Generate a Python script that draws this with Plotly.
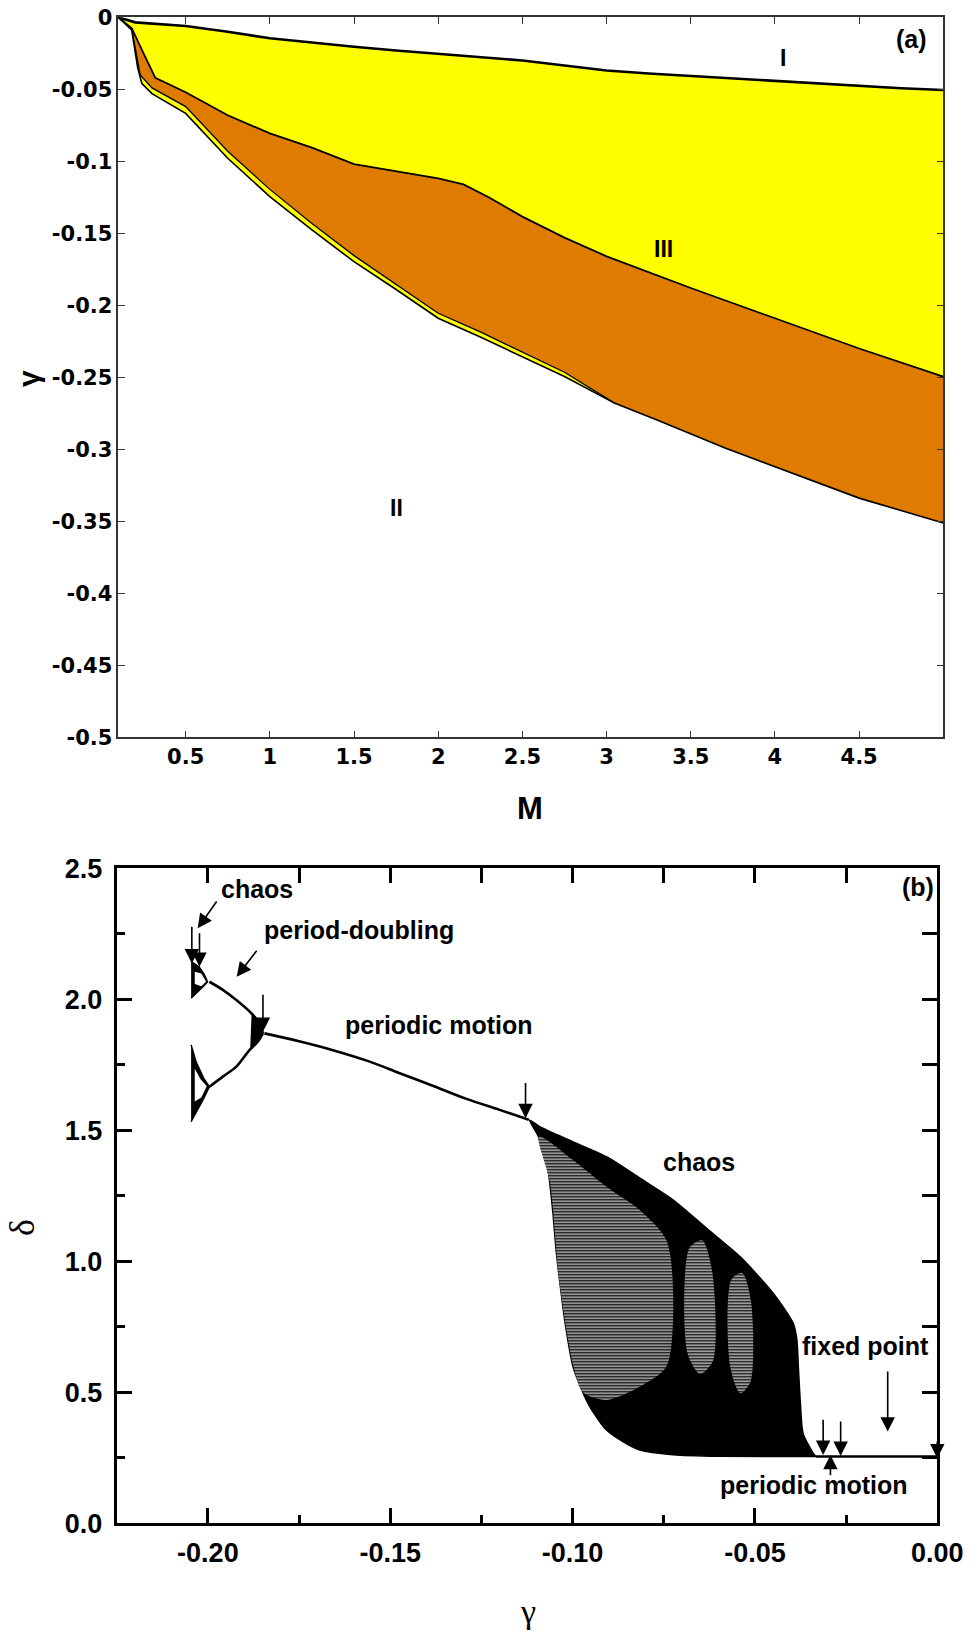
import plotly.graph_objects as go

W, H = 979, 1638

# ---------------- panel (a) data ----------------
top_M = [0.1, 0.2, 0.5, 0.75, 1.0, 1.25, 1.5, 1.75, 2.0, 2.25, 2.5, 2.75, 3.0, 3.25, 3.5, 3.75, 4.0, 4.25, 4.5, 4.75, 5.0]
top_g = [0.0, -0.0035, -0.006, -0.010, -0.0146, -0.0176, -0.0204, -0.023, -0.0255, -0.0278, -0.030, -0.0335,
         -0.037, -0.039, -0.0408, -0.0425, -0.0442, -0.046, -0.0477, -0.0493, -0.0505]

mid_M = [0.1, 0.18, 0.25, 0.32, 0.5, 0.75, 1.0, 1.25, 1.5, 1.75, 2.0, 2.15, 2.3, 2.5, 2.75, 3.0, 3.5, 4.0, 4.5, 5.0]
mid_g = [0.0, -0.0076, -0.025, -0.042, -0.052, -0.068, -0.0806, -0.0905, -0.102, -0.107, -0.1118, -0.1160,
         -0.1250, -0.1384, -0.153, -0.166, -0.188, -0.209, -0.230, -0.2495]

orange_low_M = [0.1, 0.18, 0.23, 0.3, 0.5, 0.75, 1.0, 1.25, 1.5, 1.75, 2.0, 2.25, 2.5, 2.75, 3.05]
orange_low_g = [0.0, -0.008, -0.040, -0.049, -0.062, -0.093, -0.1195, -0.1432, -0.1655, -0.1855, -0.2055,
                -0.2185, -0.2325, -0.2465, -0.2681]

outer_M = [0.1, 0.18, 0.215, 0.24, 0.3, 0.5, 0.75, 1.0, 1.25, 1.5, 1.75, 2.0, 2.25, 2.5, 2.75, 3.05, 3.3, 3.7,
           4.1, 4.5, 5.0]
outer_g = [0.0, -0.009, -0.035, -0.046, -0.053, -0.0667, -0.0979, -0.1245, -0.1476, -0.1697, -0.189, -0.209,
           -0.222, -0.236, -0.2495, -0.2681, -0.2796, -0.299, -0.3167, -0.3339, -0.3512]

a_xticks = [0.5, 1.0, 1.5, 2.0, 2.5, 3.0, 3.5, 4.0, 4.5]
a_xticktext = ["0.5", "1", "1.5", "2", "2.5", "3", "3.5", "4", "4.5"]
a_yticks = [0.0, -0.05, -0.1, -0.15, -0.2, -0.25, -0.3, -0.35, -0.4, -0.45, -0.5]
a_yticktext = ["0", "-0.05", "-0.1", "-0.15", "-0.2", "-0.25", "-0.3", "-0.35", "-0.4", "-0.45", "-0.5"]

a_labels = ["I", "III", "II", "(a)"]
a_label_M = [4.05, 3.34, 1.75, 4.81]
a_label_g = [-0.028, -0.161, -0.341, -0.015]

# ---------------- panel (b) data ----------------
per_g = [-0.1845, -0.175, -0.1657, -0.156, -0.1474, -0.138, -0.1291, -0.12, -0.112]
per_d = [1.870, 1.840, 1.806, 1.764, 1.718, 1.668, 1.620, 1.578, 1.540]

pd_up_g = [-0.1849, -0.1862, -0.1881, -0.1922, -0.1959, -0.1996]
pd_up_d = [1.870, 1.915, 1.947, 1.997, 2.036, 2.067]
pd_lo_g = [-0.1849, -0.1865, -0.1886, -0.1922, -0.1959, -0.1996]
pd_lo_d = [1.870, 1.835, 1.806, 1.743, 1.705, 1.666]

pd_lens_g = [-0.1849, -0.1862, -0.1878, -0.1880, -0.1882, -0.1865, -0.1849]
pd_lens_d = [1.870, 1.915, 1.945, 1.880, 1.810, 1.835, 1.870]

ch_up_g = [-0.2046, -0.2024, -0.2010, -0.2001, -0.2012, -0.2024, -0.2046]
ch_up_d = [2.144, 2.124, 2.095, 2.067, 2.050, 2.035, 2.004]
ch_up_hole_g = [-0.2036, -0.2018, -0.2005, -0.2018, -0.2036]
ch_up_hole_d = [2.105, 2.098, 2.068, 2.050, 2.058]

ch_lo_g = [-0.2046, -0.2032, -0.2012, -0.1996, -0.2012, -0.2030, -0.2046]
ch_lo_d = [1.826, 1.760, 1.700, 1.666, 1.620, 1.575, 1.533]
ch_lo_hole_g = [-0.2036, -0.2020, -0.2003, -0.2018, -0.2036]
ch_lo_hole_d = [1.735, 1.695, 1.668, 1.625, 1.610]

band_up_g = [-0.1118, -0.109, -0.100, -0.0907, -0.0815, -0.0724, -0.063, -0.0541, -0.045, -0.0395, -0.0385,
             -0.0381, -0.0375, -0.0368, -0.034, -0.0333]
band_up_d = [1.539, 1.514, 1.457, 1.399, 1.317, 1.234, 1.123, 1.018, 0.878, 0.763, 0.700, 0.598, 0.450, 0.343,
             0.267, 0.255]
band_lo_g = [-0.1118, -0.1095, -0.1070, -0.1055, -0.1045, -0.1035, -0.1020, -0.0999, -0.0975, -0.0953, -0.0907,
             -0.0860, -0.0816, -0.0724, -0.060, -0.0333]
band_lo_d = [1.539, 1.480, 1.370, 1.200, 1.040, 0.920, 0.760, 0.598, 0.510, 0.445, 0.356, 0.310, 0.280, 0.262,
             0.256, 0.255]

gray_g = [-0.1092, -0.0999, -0.0907, -0.0816, -0.0743, -0.0724, -0.0743, -0.0816, -0.0907, -0.0972, -0.0998,
          -0.1036, -0.1062, -0.1092]
gray_d = [1.476, 1.387, 1.285, 1.196, 1.081, 0.852, 0.598, 0.521, 0.471, 0.500, 0.600, 0.920, 1.300, 1.476]
stripe1_g = [-0.0680, -0.0645, -0.0617, -0.0615, -0.0650, -0.0685, -0.0680]
stripe1_d = [1.050, 1.080, 0.960, 0.620, 0.570, 0.650, 1.050]
stripe2_g = [-0.0565, -0.0535, -0.0511, -0.0512, -0.0540, -0.0568, -0.0565]
stripe2_d = [0.930, 0.955, 0.850, 0.540, 0.496, 0.600, 0.930]

fixed_g = [-0.0333, 0.0]
fixed_d = [0.255, 0.255]

b_xticks = [-0.20, -0.15, -0.10, -0.05, 0.00]
b_xticktext = ["-0.20", "-0.15", "-0.10", "-0.05", "0.00"]
b_xminor = [-0.175, -0.125, -0.075, -0.025]
b_xtop = [-0.2, -0.175, -0.15, -0.125, -0.1, -0.075, -0.05, -0.025]
b_yticks = [0.0, 0.5, 1.0, 1.5, 2.0, 2.5]
b_yticktext = ["0.0", "0.5", "1.0", "1.5", "2.0", "2.5"]
b_yminor = [0.25, 0.75, 1.25, 1.75, 2.25]
b_yright = [0.25, 0.5, 0.75, 1.0, 1.25, 1.5, 1.75, 2.0, 2.25]

b_labels = ["chaos", "period-doubling", "periodic motion", "chaos", "fixed point", "periodic motion", "(b)"]
b_label_g = [-0.1864, -0.1587, -0.1367, -0.0653, -0.0198, -0.0338, -0.0054]
b_label_d = [2.421, 2.263, 1.902, 1.379, 0.676, 0.148, 2.430]

# arrows: tail (g, d) -> tip (g, d)
arr_tail_g = [-0.2044, -0.2023, -0.1973, -0.1863, -0.1849, -0.1129, -0.0313, -0.0265, -0.0136, 0.0, -0.0293]
arr_tail_d = [2.283, 2.258, 2.379, 2.191, 2.023, 1.686, 0.401, 0.394, 0.585, 0.318, 0.178]
arr_tip_g = [-0.2044, -0.2023, -0.2028, -0.1921, -0.1849, -0.1129, -0.0313, -0.0265, -0.0136, 0.0, -0.0293]
arr_tip_d = [2.137, 2.124, 2.271, 2.086, 1.876, 1.546, 0.261, 0.257, 0.350, 0.248, 0.261]

YELLOW = "#FFFF00"
ORANGE = "#DF7C00"

fig = go.Figure()

# ---- panel (a) ----
yel_x = top_M + outer_M[::-1]
yel_y = top_g + outer_g[::-1]
fig.add_trace(go.Scatter(x=yel_x, y=yel_y, fill="toself", fillcolor=YELLOW, mode="none",
                         xaxis="x", yaxis="y", showlegend=False, hoverinfo="skip"))

tail_idx = [i for i, m in enumerate(outer_M) if m >= 3.05]
org_x = mid_M + [outer_M[i] for i in tail_idx][::-1] + orange_low_M[::-1]
org_y = mid_g + [outer_g[i] for i in tail_idx][::-1] + orange_low_g[::-1]
fig.add_trace(go.Scatter(x=org_x, y=org_y, fill="toself", fillcolor=ORANGE, mode="none",
                         xaxis="x", yaxis="y", showlegend=False, hoverinfo="skip"))

for xs, ys, w in [(top_M, top_g, 2.6), (mid_M, mid_g, 1.8), (orange_low_M, orange_low_g, 1.3),
                  (outer_M, outer_g, 1.6)]:
    fig.add_trace(go.Scatter(x=xs, y=ys, mode="lines", line=dict(color="black", width=w),
                             xaxis="x", yaxis="y", showlegend=False, hoverinfo="skip"))

# ---- panel (b) ----
band_x = band_up_g + band_lo_g[::-1]
band_y = band_up_d + band_lo_d[::-1]
fig.add_trace(go.Scatter(x=band_x, y=band_y, fill="toself", fillcolor="black", mode="lines",
                         line=dict(color="black", width=1.5, shape="spline", smoothing=0.7),
                         xaxis="x2", yaxis="y2", showlegend=False, hoverinfo="skip"))

for gx, gy, sol in [(gray_g, gray_d, 0.62), (stripe1_g, stripe1_d, 0.6), (stripe2_g, stripe2_d, 0.6)]:
    fig.add_trace(go.Scatter(x=gx, y=gy, fill="toself", mode="none", line=dict(shape="spline", smoothing=0.8),
                             fillpattern=dict(shape="-", size=3, solidity=sol, fgcolor="black",
                                              bgcolor="white", fillmode="replace"),
                             xaxis="x2", yaxis="y2", showlegend=False, hoverinfo="skip"))

for cx, cy in [(ch_up_g, ch_up_d), (ch_lo_g, ch_lo_d), (pd_lens_g, pd_lens_d)]:
    fig.add_trace(go.Scatter(x=cx, y=cy, fill="toself", fillcolor="black", mode="lines",
                             line=dict(color="black", width=1.5), xaxis="x2", yaxis="y2",
                             showlegend=False, hoverinfo="skip"))
for hx, hy in [(ch_up_hole_g, ch_up_hole_d), (ch_lo_hole_g, ch_lo_hole_d)]:
    fig.add_trace(go.Scatter(x=hx, y=hy, fill="toself", fillcolor="white", mode="none",
                             xaxis="x2", yaxis="y2", showlegend=False, hoverinfo="skip"))

for lx, ly in [(per_g, per_d), (pd_up_g, pd_up_d), (pd_lo_g, pd_lo_d), (fixed_g, fixed_d)]:
    fig.add_trace(go.Scatter(x=lx, y=ly, mode="lines", line=dict(color="black", width=2.6, shape="spline"),
                             xaxis="x2", yaxis="y2", showlegend=False, hoverinfo="skip"))

# dummy trace for the overlay tick axes (top / right ticks of panel b)
fig.add_trace(go.Scatter(x=[None], y=[None], xaxis="x3", yaxis="y3", showlegend=False, hoverinfo="skip"))

annotations = []
lab_font_a = dict(family="Liberation Sans", size=23, color="black", weight="bold")
for t, m, g in zip(a_labels, a_label_M, a_label_g):
    f = dict(lab_font_a)
    if t == "(a)":
        f["size"] = 25
    annotations.append(dict(x=m, y=g, xref="x", yref="y", text=t, showarrow=False, font=f,
                            xanchor="center", yanchor="middle"))

lab_font_b = dict(family="Liberation Sans", size=25, color="black", weight="bold")
for t, g, d in zip(b_labels, b_label_g, b_label_d):
    annotations.append(dict(x=g, y=d, xref="x2", yref="y2", text=t, showarrow=False, font=lab_font_b,
                            xanchor="center", yanchor="middle"))

for tg, td, hg, hd in zip(arr_tail_g, arr_tail_d, arr_tip_g, arr_tip_d):
    annotations.append(dict(x=hg, y=hd, xref="x2", yref="y2", ax=tg, ay=td, axref="x2", ayref="y2",
                            text="", showarrow=True, arrowhead=2, arrowsize=1.8, arrowwidth=1.6,
                            arrowcolor="black", standoff=0))

# axis titles
annotations += [
    dict(x=28 / W, y=1 - 379 / H, xref="paper", yref="paper", text="γ", showarrow=False, textangle=-90,
         xanchor="center", yanchor="middle",
         font=dict(family="Liberation Sans", size=30, color="black", weight="bold")),
    dict(x=530.3 / W, y=1 - 808.7 / H, xref="paper", yref="paper", text="M", showarrow=False,
         xanchor="center", yanchor="middle",
         font=dict(family="Liberation Sans", size=31, color="black", weight="bold")),
    dict(x=22 / W, y=1 - 1228 / H, xref="paper", yref="paper", text="δ", showarrow=False, textangle=-90,
         xanchor="center", yanchor="middle",
         font=dict(family="Liberation Serif", size=36, color="black")),
    dict(x=528 / W, y=1 - 1611 / H, xref="paper", yref="paper", text="γ", showarrow=False,
         xanchor="center", yanchor="middle",
         font=dict(family="Liberation Serif", size=34, color="black")),
]

tick_font_a = dict(family="DejaVu Sans", size=21, color="black", weight="bold")
tick_font_b = dict(family="Liberation Sans", size=27, color="black", weight="bold")

fig.update_layout(
    width=W, height=H, margin=dict(l=0, r=0, t=0, b=0, pad=0), autosize=False,
    paper_bgcolor="white", plot_bgcolor="white", showlegend=False,
    annotations=annotations,
    xaxis=dict(domain=[118.3 / W, 943.3 / W], range=[0.1, 5.0], anchor="y", automargin=False,
               tickvals=a_xticks, ticktext=a_xticktext, ticks="inside", ticklen=7, tickwidth=1,
               tickcolor="#333", showline=True, linecolor="#333", linewidth=1.5, mirror="allticks",
               showgrid=False, zeroline=False, tickfont=tick_font_a, ticklabelstandoff=0),
    yaxis=dict(domain=[1 - 737.3 / H, 1 - 17.3 / H], range=[-0.5, 0.0], anchor="x", automargin=False,
               tickvals=a_yticks, ticktext=a_yticktext, ticks="inside", ticklen=7, tickwidth=1,
               tickcolor="#333", showline=True, linecolor="#333", linewidth=1.5, mirror="allticks",
               showgrid=False, zeroline=False, tickfont=tick_font_a, ticklabelstandoff=0),
    xaxis2=dict(domain=[116.7 / W, 937.3 / W], range=[-0.225, 0.0], anchor="y2", automargin=False,
                tickvals=b_xticks, ticktext=b_xticktext, ticks="inside", ticklen=15, tickwidth=3,
                tickcolor="black", showline=True, linecolor="black", linewidth=3, mirror=True,
                minor=dict(tickvals=b_xminor, ticks="inside", ticklen=8, tickwidth=3, tickcolor="black",
                           showgrid=False),
                showgrid=False, zeroline=False, tickfont=tick_font_b, ticklabelstandoff=3),
    yaxis2=dict(domain=[1 - 1523.3 / H, 1 - 868.3 / H], range=[0.0, 2.5], anchor="x2", automargin=False,
                tickvals=b_yticks, ticktext=b_yticktext, ticks="inside", ticklen=15, tickwidth=3,
                tickcolor="black", showline=True, linecolor="black", linewidth=3, mirror=True,
                minor=dict(tickvals=b_yminor, ticks="inside", ticklen=8, tickwidth=3, tickcolor="black",
                           showgrid=False),
                showgrid=False, zeroline=False, tickfont=tick_font_b, ticklabelstandoff=6),
    xaxis3=dict(overlaying="x2", side="top", anchor="y2", range=[-0.225, 0.0], tickvals=b_xtop,
                automargin=False,
                ticks="inside", ticklen=15, tickwidth=3, tickcolor="black", showticklabels=False,
                showline=False, showgrid=False, zeroline=False),
    yaxis3=dict(overlaying="y2", side="right", anchor="x2", range=[0.0, 2.5], tickvals=b_yright,
                automargin=False,
                ticks="inside", ticklen=15, tickwidth=3, tickcolor="black", showticklabels=False,
                showline=False, showgrid=False, zeroline=False),
)

fig.write_html("out.html")
